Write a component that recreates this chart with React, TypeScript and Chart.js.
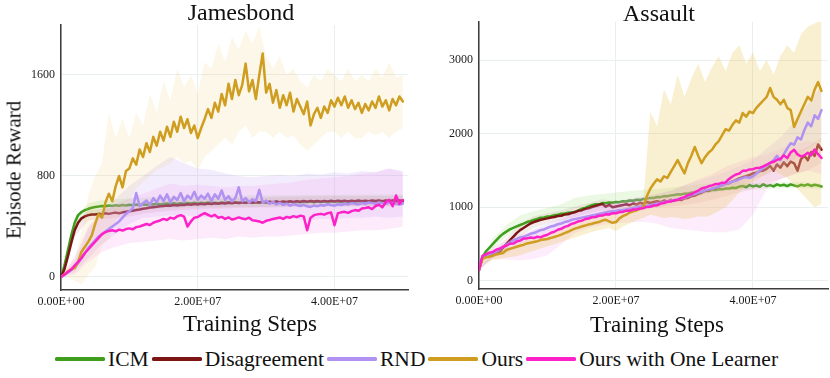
import React, { useEffect, useRef } from 'react';
import { Chart, registerables } from 'chart.js';
Chart.register(...registerables);

const SERIF = "'Liberation Serif', 'Times New Roman', serif";

const SERIES_NAMES = ['ICM', 'Disagreement', 'RND', 'Ours', 'Ours with One Learner'];
const SERIES_COLORS = ['#3f9e1c', '#7d1515', '#b191f2', '#cf9d1f', '#ff21c8'];
const JB_BAND_COLORS = [
  'rgba(130, 210, 90, 0.18)',
  'rgba(190, 110, 110, 0.15)',
  'rgba(190, 160, 245, 0.2)',
  'rgba(232, 196, 90, 0.14)',
  'rgba(245, 150, 235, 0.2)',
];
const AS_BAND_COLORS = [
  'rgba(130, 210, 90, 0.16)',
  'rgba(190, 110, 110, 0.14)',
  'rgba(190, 160, 245, 0.18)',
  'rgba(232, 196, 90, 0.28)',
  'rgba(245, 150, 235, 0.18)',
];

const X_END = 5e7;
const X_TICKS = [0, 2e7, 4e7];
const JB_Y_TICKS = [0, 800, 1600];
const AS_Y_TICKS = [0, 1000, 2000, 3000];

// ---------------- Jamesbond: means (101 points, 0 .. 5e7) ----------------
const JB_ICM = [
  0, 90, 210, 330, 430, 490, 515, 530, 540, 548,
  555, 558, 562, 560, 566, 563, 568, 565, 570, 566,
  572, 569, 574, 570, 576, 572, 578, 574, 580, 575,
  578, 582, 577, 584, 579, 585, 580, 586, 582, 588,
  583, 589, 584, 590, 585, 588, 584, 590, 586, 592,
  587, 591, 586, 593, 588, 594, 589, 592, 587, 595,
  590, 594, 588, 596, 591, 595, 590, 597, 592, 596,
  591, 598, 593, 597, 592, 599, 594, 598, 593, 600,
  595, 599, 594, 601, 596, 600, 595, 602, 597, 601,
  596, 603, 598, 602, 597, 604, 599, 603, 598, 604,
  600,
];
const JB_DIS = [
  0, 60, 160, 270, 370, 430, 465, 480, 490, 495,
  495, 500, 498, 505, 500, 506, 510, 505, 512, 516,
  520, 524, 530, 534, 540, 544, 550, 553, 556, 560,
  562, 566, 564, 570, 567, 573, 570, 576, 572, 578,
  575, 580, 577, 582, 579, 584, 580, 586, 582, 588,
  584, 590, 586, 591, 587, 593, 588, 594, 590, 595,
  591, 596, 592, 598, 593, 599, 594, 600, 595, 601,
  596, 602, 597, 603, 598, 602, 597, 603, 599, 604,
  599, 605, 600, 604, 599, 605, 601, 606, 600, 605,
  601, 606, 602, 607, 601, 606, 602, 607, 603, 606,
  604,
];
const JB_RND = [
  0, 15, 35, 55, 80, 110, 150, 190, 230, 260,
  290, 320, 340, 360, 380, 400, 420, 440, 470, 500,
  520, 545, 665, 560, 585, 605, 570, 625, 590, 645,
  600, 655, 590, 635, 610, 665, 600, 645, 620, 675,
  610, 645, 620, 660, 600, 655, 620, 685, 610, 640,
  600, 625, 710, 600, 625, 590, 615, 600, 690, 590,
  605, 580, 595, 575, 588, 570, 582, 565, 578, 570,
  562, 572, 560, 555, 566, 560, 571, 565, 576, 570,
  565, 576, 570, 580, 575, 585, 580, 575, 586, 580,
  590, 585, 580, 591, 585, 580, 592, 586, 580, 576,
  582,
];
const JB_OURS = [
  0, 20, 45, 60, 70, 120, 200, 240, 280, 330,
  420, 500, 470, 590, 660, 600, 720, 800, 710, 840,
  860, 940, 890, 1010, 950, 1060, 990, 1110, 1040, 1150,
  1080, 1190, 1110, 1230, 1150, 1270, 1180, 1250, 1140, 1200,
  1100, 1180, 1250, 1330, 1260, 1380, 1310, 1450, 1360, 1530,
  1410, 1560, 1440, 1520, 1690, 1470, 1560, 1410, 1600, 1770,
  1460, 1530, 1380, 1480, 1340, 1440, 1360, 1460, 1310, 1410,
  1350, 1290, 1390, 1200, 1290, 1340, 1260, 1350, 1300, 1400,
  1350, 1420, 1360, 1430, 1340, 1400, 1330, 1380, 1300, 1370,
  1320, 1390, 1340, 1430, 1350, 1400, 1320, 1410, 1360, 1430,
  1390,
];
const JB_OWOL = [
  0, 20, 40, 60, 90, 120, 150, 190, 220, 250,
  280, 310, 340, 355, 365, 370, 362, 375, 368, 380,
  385, 378, 395, 400, 410, 420, 412, 430, 440, 448,
  460, 452, 470, 462, 480, 490, 478, 400, 440, 470,
  475, 492, 505, 493, 480, 492, 470, 476, 460, 472,
  455, 462, 472, 463, 458, 470, 450, 446, 440, 430,
  445, 452, 460, 466, 472, 460, 476, 470, 482, 474,
  486, 480, 370, 470, 490, 496, 500, 494, 506, 510,
  410, 506, 512, 516, 508, 522, 530, 524, 542, 546,
  552, 538, 562, 572, 552, 592, 612, 560, 645, 578,
  610,
];

// ---------------- Jamesbond: bands ----------------
// 26 points (0 .. 5e7)
const JB_ICM_LO = [0, 385, 495, 517, 525, 531, 537, 542, 545, 548, 550, 552, 553, 554, 555, 556, 557, 558, 559, 560, 560, 561, 562, 562, 563, 563];
const JB_ICM_HI = [0, 475, 585, 607, 615, 621, 627, 632, 635, 638, 640, 642, 643, 644, 645, 646, 647, 648, 649, 650, 650, 651, 652, 652, 653, 653];
const JB_DIS_LO = [0, 320, 450, 460, 470, 480, 500, 515, 525, 530, 535, 540, 542, 546, 548, 551, 553, 555, 557, 558, 559, 559, 560, 562, 561, 564];
const JB_DIS_HI = [0, 420, 530, 536, 550, 560, 580, 597, 603, 610, 615, 618, 622, 626, 628, 631, 633, 635, 637, 638, 639, 639, 640, 642, 641, 644];
const JB_RND_LO = [0, 40, 150, 260, 340, 420, 470, 480, 490, 490, 480, 470, 470, 460, 460, 450, 450, 460, 450, 460, 460, 470, 470, 480, 470, 480];
const JB_RND_HI = [0, 130, 380, 520, 620, 720, 800, 880, 950, 900, 860, 850, 820, 800, 790, 800, 810, 800, 820, 810, 830, 820, 840, 830, 860, 840];
const JB_OWOL_LO = [0, 20, 120, 200, 240, 270, 280, 290, 300, 290, 300, 310, 300, 320, 310, 320, 320, 330, 340, 350, 350, 360, 370, 370, 380, 400];
const JB_OWOL_HI = [0, 160, 400, 520, 580, 620, 660, 700, 740, 720, 730, 720, 710, 720, 720, 730, 740, 750, 770, 780, 790, 800, 820, 830, 860, 830];
// 51 points (0 .. 5e7)
const JB_OURS_LO = [
  0, 0, -30, -60, 20, 80, 250, 300, 450, 520,
  600, 700, 750, 800, 850, 870, 900, 950, 900, 920,
  850, 950, 1000, 1050, 1100, 1050, 1150, 1200, 1100, 1150,
  1150, 1100, 1150, 1100, 1120, 1050, 1000, 1050, 1100, 1150,
  1150, 1100, 1150, 1100, 1100, 1150, 1120, 1150, 1100, 1150,
  1180,
];
const JB_OURS_HI = [
  0, 80, 150, 350, 650, 800, 900, 1300, 1100, 1250,
  1100, 1300, 1200, 1450, 1300, 1550, 1400, 1650, 1500, 1600,
  1450, 1700, 1650, 1850, 1700, 1900, 1800, 1950, 1850, 1980,
  1750, 1650, 1750, 1600, 1650, 1550, 1500, 1600, 1550, 1650,
  1600, 1550, 1650, 1550, 1600, 1550, 1650, 1580, 1700, 1580,
  1600,
];

// ---------------- Assault: means (101 points, 0 .. 5e7) ----------------
const AS_ICM = [
  150, 320, 400, 450, 500, 550, 600, 640, 670, 700,
  720, 740, 760, 778, 800, 812, 830, 842, 860, 862,
  875, 878, 892, 898, 912, 914, 926, 928, 942, 958,
  980, 992, 1012, 1028, 1042, 1040, 1058, 1056, 1064, 1062,
  1072, 1070, 1082, 1080, 1092, 1090, 1102, 1098, 1112, 1118,
  1128, 1126, 1140, 1138, 1152, 1150, 1162, 1168, 1176, 1174,
  1186, 1184, 1200, 1198, 1212, 1210, 1226, 1222, 1236, 1234,
  1246, 1244, 1256, 1254, 1266, 1262, 1282, 1290, 1272, 1302,
  1284, 1296, 1278, 1312, 1288, 1302, 1284, 1312, 1294, 1306,
  1288, 1312, 1298, 1284, 1306, 1294, 1312, 1290, 1306, 1296,
  1282,
];
const AS_DIS = [
  150, 320, 340, 350, 360, 370, 390, 450, 500, 550,
  600, 650, 690, 720, 750, 780, 800, 815, 830, 840,
  850, 862, 868, 882, 886, 902, 906, 922, 932, 952,
  958, 978, 986, 1004, 1018, 1032, 1044, 1008, 1034, 1000,
  1012, 1022, 1030, 1042, 1028, 1052, 1038, 1062, 1048, 1072,
  1058, 1072, 1082, 1068, 1092, 1078, 1102, 1088, 1112, 1098,
  1122, 1128, 1152, 1158, 1182, 1198, 1222, 1228, 1252, 1258,
  1282, 1298, 1322, 1328, 1352, 1368, 1392, 1408, 1422, 1438,
  1462, 1468, 1492, 1498, 1522, 1562, 1498, 1582, 1538, 1612,
  1558, 1622, 1598, 1498, 1652, 1702, 1638, 1752, 1698, 1852,
  1782,
];
const AS_RND = [
  150, 330, 350, 360, 380, 400, 430, 460, 490, 520,
  550, 570, 590, 600, 620, 640, 650, 670, 690, 700,
  720, 740, 750, 770, 780, 800, 810, 830, 840, 850,
  860, 870, 880, 890, 900, 910, 920, 930, 940, 945,
  950, 960, 965, 970, 980, 990, 1000, 1010, 1015, 1020,
  1030, 1040, 1050, 1060, 1070, 1080, 1090, 1100, 1110, 1120,
  1130, 1150, 1170, 1180, 1200, 1210, 1230, 1240, 1250, 1270,
  1280, 1300, 1320, 1330, 1350, 1360, 1380, 1400, 1410, 1400,
  1420, 1460, 1500, 1540, 1570, 1600, 1640, 1700, 1640, 1720,
  1800, 1870, 1850, 1950, 1920, 2050, 2150, 2100, 2250, 2200,
  2320,
];
const AS_OURS = [
  150, 300, 320, 330, 340, 360, 370, 380, 420, 435,
  450, 465, 478, 490, 510, 520, 530, 540, 555, 562,
  570, 585, 598, 612, 630, 650, 668, 690, 710, 725,
  740, 752, 768, 778, 790, 800, 820, 830, 810, 790,
  800, 850, 880, 900, 930, 945, 960, 980, 1000, 1150,
  1250, 1320, 1380, 1350, 1420, 1400, 1480, 1560, 1640, 1550,
  1460, 1600, 1700, 1820, 1700, 1600, 1680, 1740, 1780, 1850,
  1900, 1980, 2060, 2040, 2120, 2180, 2150, 2280, 2230, 2300,
  2280, 2350, 2400, 2450, 2500, 2620, 2500, 2460, 2400, 2460,
  2350, 2320, 2090, 2200, 2300, 2400, 2500, 2450, 2600, 2700,
  2580,
];
const AS_OWOL = [
  150, 340, 360, 385, 392, 425, 438, 465, 478, 505,
  508, 535, 548, 575, 578, 590, 582, 600, 592, 615,
  628, 655, 668, 695, 708, 735, 748, 775, 788, 810,
  818, 840, 848, 865, 868, 885, 888, 905, 902, 920,
  918, 935, 938, 955, 952, 970, 972, 985, 988, 1005,
  1008, 1025, 1028, 1050, 1058, 1075, 1078, 1095, 1098, 1125,
  1138, 1165, 1178, 1205, 1228, 1255, 1268, 1285, 1298, 1315,
  1318, 1335, 1338, 1385, 1418, 1445, 1458, 1495, 1498, 1515,
  1518, 1535, 1538, 1555, 1578, 1605, 1618, 1645, 1658, 1705,
  1668, 1745, 1782, 1718, 1692, 1705, 1742, 1708, 1785, 1722,
  1670,
];

// ---------------- Assault: bands ----------------
const AS_ICM_LO = [150, 430, 600, 730, 800, 840, 880, 980, 1010, 1030, 1050, 1070, 1100, 1120, 1140, 1160, 1180, 1200, 1220, 1240, 1240, 1250, 1260, 1260, 1260, 1240];
const AS_ICM_HI = [150, 580, 760, 890, 950, 990, 1040, 1130, 1160, 1180, 1200, 1220, 1240, 1250, 1270, 1290, 1310, 1320, 1330, 1340, 1330, 1330, 1340, 1340, 1340, 1320];
const AS_DIS_LO = [150, 320, 430, 600, 720, 780, 820, 870, 920, 960, 940, 970, 980, 1000, 1010, 1030, 1060, 1100, 1150, 1200, 1250, 1320, 1380, 1450, 1500, 1600];
const AS_DIS_HI = [150, 400, 580, 770, 880, 920, 960, 1010, 1060, 1110, 1080, 1110, 1120, 1150, 1170, 1200, 1240, 1300, 1350, 1420, 1490, 1560, 1640, 1750, 1820, 1950];
const AS_RND_LO = [150, 320, 380, 480, 580, 660, 720, 780, 830, 870, 900, 940, 970, 1000, 1050, 1100, 1150, 1200, 1260, 1320, 1380, 1450, 1550, 1650, 1800, 1900];
const AS_RND_HI = [150, 380, 450, 580, 700, 780, 860, 920, 980, 1020, 1060, 1100, 1140, 1180, 1230, 1300, 1360, 1420, 1480, 1560, 1640, 1800, 1950, 2150, 2400, 2650];
const AS_OWOL_LO = [150, 300, 290, 280, 300, 350, 500, 650, 720, 760, 780, 800, 800, 780, 720, 700, 680, 660, 660, 700, 900, 1250, 1380, 1450, 1500, 1450];
const AS_OWOL_HI = [150, 460, 540, 630, 690, 740, 820, 920, 990, 1040, 1080, 1120, 1150, 1180, 1220, 1300, 1380, 1450, 1550, 1620, 1680, 1720, 1800, 1860, 1900, 1860];
const AS_OURS_LO = [
  150, 250, 280, 300, 320, 330, 350, 380, 410, 440,
  470, 500, 530, 560, 590, 620, 650, 680, 700, 720,
  680, 740, 780, 820, 860, 900, 880, 850, 870, 860,
  840, 850, 880, 870, 900, 950, 1000, 1100, 1200, 1300,
  1350, 1400, 1450, 1500, 1450, 1400, 1300, 1200, 1100, 1000,
  1050,
];
const AS_OURS_HI = [
  150, 380, 400, 420, 450, 480, 520, 560, 590, 620,
  650, 680, 720, 760, 800, 840, 880, 910, 940, 960,
  940, 980, 1020, 1060, 1100, 2300, 2100, 2600, 2400, 2800,
  2500, 2750, 2950, 2700, 2900, 3050, 2850, 3100, 3200, 2950,
  3100, 2850, 3000, 2800, 3050, 3200, 3100, 3350, 3450, 3500,
  3550,
];

const toPts = (arr: number[]) =>
  arr.map((y, i) => ({ x: (i * X_END) / (arr.length - 1), y }));

const fmtExp = (v: number) => {
  const [m, e] = Number(v).toExponential(2).split('e');
  const sign = e[0] === '-' ? '-' : '+';
  const digits = e.replace(/[+-]/, '').padStart(2, '0');
  return `${m}E${sign}${digits}`;
};

const LINE_ORDER = [15, 14, 8, 5, 2];
const BAND_ORDER = [20, 19, 12, 10, 11];

function buildDatasets(means: number[][], los: number[][], his: number[][], bandColors: string[]) {
  const ds: any[] = [];
  means.forEach((m, k) => {
    ds.push({
      data: toPts(los[k]),
      borderWidth: 0,
      borderColor: 'rgba(0,0,0,0)',
      pointRadius: 0,
      fill: false,
      order: BAND_ORDER[k],
    });
    ds.push({
      data: toPts(his[k]),
      borderWidth: 0,
      borderColor: 'rgba(0,0,0,0)',
      backgroundColor: bandColors[k],
      pointRadius: 0,
      fill: '-1',
      order: BAND_ORDER[k],
    });
    ds.push({
      label: SERIES_NAMES[k],
      data: toPts(m),
      borderColor: SERIES_COLORS[k],
      borderWidth: 2.5,
      borderJoinStyle: 'round',
      borderCapStyle: 'round',
      pointRadius: 0,
      fill: false,
      tension: 0,
      order: LINE_ORDER[k],
    });
  });
  return ds;
}

const GRID = '#e9eeee';
const AXIS = '#3c3c3c';
const TICK_FONT = { family: SERIF, size: 12 };

function makeConfig(opts: {
  datasets: any[];
  xMax: number;
  yMin: number;
  yMax: number;
  yTicks: number[];
  yWidth: number;
  xHeight: number;
  padTop: number;
  padRight: number;
}): any {
  return {
    type: 'line',
    data: { datasets: opts.datasets },
    options: {
      animation: false,
      responsive: false,
      maintainAspectRatio: false,
      events: [],
      layout: { padding: { top: opts.padTop, right: opts.padRight, left: 0, bottom: 0 } },
      plugins: {
        legend: { display: false },
        tooltip: { enabled: false },
        title: { display: false },
      },
      scales: {
        x: {
          type: 'linear',
          min: 0,
          max: opts.xMax,
          afterBuildTicks: (s: any) => {
            s.ticks = X_TICKS.map((v) => ({ value: v }));
          },
          afterFit: (s: any) => {
            s.height = opts.xHeight;
          },
          ticks: {
            callback: (v: any) => fmtExp(v),
            font: TICK_FONT,
            color: '#1a1a1a',
            padding: 5,
            maxRotation: 0,
            autoSkip: false,
          },
          grid: { color: GRID, lineWidth: 1, drawTicks: false },
          border: { color: AXIS, width: 1.5 },
        },
        y: {
          type: 'linear',
          min: opts.yMin,
          max: opts.yMax,
          afterBuildTicks: (s: any) => {
            s.ticks = opts.yTicks.map((v) => ({ value: v }));
          },
          afterFit: (s: any) => {
            s.width = opts.yWidth;
          },
          ticks: {
            callback: (v: any) => String(v),
            font: TICK_FONT,
            color: '#1a1a1a',
            padding: 6,
            autoSkip: false,
          },
          grid: { color: GRID, lineWidth: 1, drawTicks: false },
          border: { color: AXIS, width: 1.5 },
        },
      },
    },
  };
}

export default function App() {
  const leftRef = useRef<HTMLCanvasElement>(null);
  const rightRef = useRef<HTMLCanvasElement>(null);

  useEffect(() => {
    const c1 = new Chart(
      leftRef.current as HTMLCanvasElement,
      makeConfig({
        datasets: buildDatasets(
          [JB_ICM, JB_DIS, JB_RND, JB_OURS, JB_OWOL],
          [JB_ICM_LO, JB_DIS_LO, JB_RND_LO, JB_OURS_LO, JB_OWOL_LO],
          [JB_ICM_HI, JB_DIS_HI, JB_RND_HI, JB_OURS_HI, JB_OWOL_HI],
          JB_BAND_COLORS
        ),
        xMax: 5.075e7,
        yMin: -103,
        yMax: 1996,
        yTicks: JB_Y_TICKS,
        yWidth: 61,
        xHeight: 50,
        padTop: 25,
        padRight: 7,
      })
    );
    const c2 = new Chart(
      rightRef.current as HTMLCanvasElement,
      makeConfig({
        datasets: buildDatasets(
          [AS_ICM, AS_DIS, AS_RND, AS_OURS, AS_OWOL],
          [AS_ICM_LO, AS_DIS_LO, AS_RND_LO, AS_OURS_LO, AS_OWOL_LO],
          [AS_ICM_HI, AS_DIS_HI, AS_RND_HI, AS_OURS_HI, AS_OWOL_HI],
          AS_BAND_COLORS
        ),
        xMax: 5.095e7,
        yMin: -109,
        yMax: 3516,
        yTicks: AS_Y_TICKS,
        yWidth: 64,
        xHeight: 51,
        padTop: 22,
        padRight: 2,
      })
    );
    return () => {
      c1.destroy();
      c2.destroy();
    };
  }, []);

  const textBase: React.CSSProperties = {
    position: 'absolute',
    fontFamily: SERIF,
    color: '#111',
    whiteSpace: 'nowrap',
  };

  return (
    <div
      style={{
        position: 'absolute',
        left: 0,
        top: 0,
        width: 830,
        height: 378,
        background: '#fff',
        overflow: 'hidden',
      }}
    >
      <canvas
        ref={leftRef}
        width={415}
        height={340}
        style={{ position: 'absolute', left: 0, top: 0, width: 415, height: 340 }}
      />
      <canvas
        ref={rightRef}
        width={415}
        height={340}
        style={{ position: 'absolute', left: 415, top: 0, width: 415, height: 340 }}
      />

      <div style={{ ...textBase, left: 241, top: 0, fontSize: 24, lineHeight: '24px', transform: 'translateX(-50%)' }}>
        Jamesbond
      </div>
      <div style={{ ...textBase, left: 659, top: 1, fontSize: 24, lineHeight: '24px', transform: 'translateX(-50%)' }}>
        Assault
      </div>

      <div style={{ ...textBase, left: 250, top: 312, fontSize: 23, lineHeight: '23px', transform: 'translateX(-50%)' }}>
        Training Steps
      </div>
      <div style={{ ...textBase, left: 657, top: 313, fontSize: 23, lineHeight: '23px', transform: 'translateX(-50%)' }}>
        Training Steps
      </div>

      <div
        style={{
          ...textBase,
          left: 14,
          top: 170,
          fontSize: 21,
          lineHeight: '21px',
          transform: 'translate(-50%, -50%) rotate(-90deg)',
        }}
      >
        Episode Reward
      </div>

      <div
        style={{
          ...textBase,
          left: 55,
          top: 348,
          height: 22,
          display: 'flex',
          alignItems: 'center',
          fontSize: 21.5,
        }}
      >
        {SERIES_NAMES.map((name, k) => (
          <React.Fragment key={name}>
            <span
              style={{
                display: 'inline-block',
                width: 50,
                height: 3.5,
                borderRadius: 1.5,
                background: SERIES_COLORS[k],
                marginLeft: k === 0 ? 0 : 3,
                marginRight: 3,
              }}
            />
            <span style={{ lineHeight: '22px' }}>{name}</span>
          </React.Fragment>
        ))}
      </div>
    </div>
  );
}
